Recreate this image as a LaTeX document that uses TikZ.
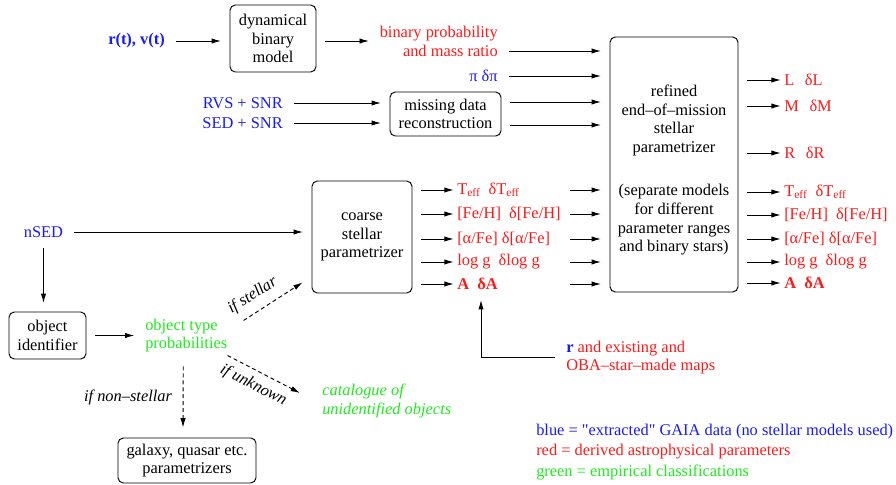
\documentclass[tikz,border=0pt]{standalone}
\usepackage{fontspec}
\setmainfont{LiberationSerif}[Extension=.ttf,UprightFont=*-Regular,BoldFont=*-Bold,ItalicFont=*-Italic,BoldItalicFont=*-BoldItalic]
\usetikzlibrary{calc,arrows.meta}

\definecolor{gaiablue}{RGB}{25,25,255}
\definecolor{gaiared}{RGB}{255,25,25}
\definecolor{gaiagreen}{RGB}{30,235,30}
\newcommand{\gaiafont}{\fontsize{12.3pt}{13.9pt}\selectfont}
\newcommand{\teff}{T\textsubscript{eff}}

\begin{document}
\begin{tikzpicture}[x=0.75pt,y=-0.75pt]

\tikzstyle{gaiatext} = [inner sep=1.5pt,font=\gaiafont,align=center,text=black]%
\tikzstyle{gaiabox} = [gaiatext,rectangle,draw=black,line width=0.7pt,rounded corners=4pt]%
\tikzstyle{gaiadata} = [gaiatext,text=gaiablue]%
\tikzstyle{gaiapar} = [gaiatext,text=gaiared]%
\tikzstyle{gaiaclass} = [gaiatext,text=gaiagreen]%
\tikzstyle{gaiaarc} = [->,>={Latex[length=7pt,width=4pt]},line width=0.7pt,shorten <=6.5pt,shorten >=6.5pt]%
\tikzstyle{gaiadash} = [gaiaarc,dash pattern=on 3pt off 2.2pt,shorten <=0pt,shorten >=0pt]%
\tikzstyle{cond} = [gaiatext,font=\gaiafont\itshape,inner sep=1pt]%

\useasboundingbox (0,0) rectangle (896,485);

\node[gaiadata,anchor=east,font=\gaiafont\bfseries] (rv) at (167,41) {r(t), v(t)};
\node[gaiabox,minimum width=64.5pt,minimum height=50.25pt] (dyn) at (273,38.5) {dynamical\\binary\\model};
\node[gaiapar,anchor=east,align=right] (binprob) at (500,41.5) {binary probability\\and mass ratio};
\node[gaiadata,anchor=east] (plx) at (500,76) {π δπ};

\node[gaiadata,anchor=east] (rvs) at (285,103) {RVS + SNR};
\node[gaiadata,anchor=east] (sed) at (285,123) {SED + SNR};
\node[gaiabox,minimum width=83.25pt,minimum height=33pt] (miss) at (445.5,114) {missing data\\reconstruction};

\node[gaiabox,minimum width=96pt,minimum height=191.25pt] (refined) at (674,164.5) {};
\node[gaiatext] (refinedtxt) at (674,170) {refined\\end--of--mission\\stellar\\parametrizer\\[19pt](separate models\\for different\\parameter ranges\\and binary stars)};

\node[gaiabox,minimum width=75pt,minimum height=84pt] (coarse) at (362,237) {coarse\\stellar\\parametrizer};
\node[gaiadata] (nsed) at (43.5,232) {nSED};

\node[gaiabox,minimum width=57.75pt,minimum height=35.25pt] (objid) at (47.5,335.5) {object\\identifier};
\node[gaiaclass,anchor=west,align=left] (objtype) at (143,335.5) {object type\\probabilities};
\node[gaiabox,minimum width=103.5pt,minimum height=33.75pt] (galaxy) at (187,460.5) {galaxy, quasar etc.\\parametrizers};
\node[gaiaclass,anchor=west,align=left,font=\gaiafont\itshape] (catalog) at (320,401) {catalogue of\\unidentified objects};

\node[gaiapar,anchor=west,align=left] (maps) at (564,357.5) {\textcolor{gaiablue}{\textbf{r}} and existing and\\OBA--star--made maps};
\coordinate (mapsin) at (481,300);

\node[gaiadata,anchor=west] (keyblue) at (534,432) {blue = \textquotedbl extracted\textquotedbl{} GAIA data (no stellar models used)};
\node[gaiapar,anchor=west] (keyred) at (534,452) {red = derived astrophysical parameters};
\node[gaiaclass,anchor=west] (keygreen) at (534,472) {green = empirical classifications};

% inputs
\draw[gaiaarc] (rv.east) -- (dyn.west |- rv);
\draw[gaiaarc] (dyn.east |- rv) -- (binprob.west |- rv);
\draw[gaiaarc] ($(binprob.east)+(0,9.5)$) -- ($(refined.west |- binprob.east)+(0,9.5)$);
\draw[gaiaarc] (plx.east) -- (refined.west |- plx);
\draw[gaiaarc] (rvs.east) -- (miss.west |- rvs);
\draw[gaiaarc] (sed.east) -- (miss.west |- sed);
\draw[gaiaarc] ($(miss.east |- rvs)+(0,-1)$) -- ($(refined.west |- rvs)+(0,-1)$);
\draw[gaiaarc] ($(miss.east |- sed)+(0,2)$) -- ($(refined.west |- sed)+(0,2)$);

% classification
\draw[gaiaarc] (nsed.east) -- (coarse.west |- nsed);
\draw[gaiaarc] (nsed.south) -- (nsed.south |- objid.north);
\draw[gaiaarc] (objid.east) -- (objtype.west);
\draw[gaiadash] ($(objtype.east)+(14,-15)$) --
    node[cond,pos=0.3,sloped,above=5pt] {if stellar}
    ($(coarse.south west)+(-9,-11)$);
\draw[gaiadash] ($(objtype.south east)+(-2,1)$) --
    node[cond,pos=0.45,sloped,below=4pt] {if unknown}
    ($(catalog.west)+(-20,-8)$);
\draw[gaiadash] ($(objtype.south)+(-3,12)$) --
    node[cond,midway,left=7pt] {if non--stellar}
    ($(galaxy.north)+(-4,-10)$);

% coarse parameters
\foreach \name/\y/\txt in {teff/190/{\teff\ \ δ\teff}, feh/214/{[Fe/H]\ \ δ[Fe/H]}, afe/239/{[α/Fe] δ[α/Fe]}, logg/262/{log g\ \ δlog g}, ext/284/{\textbf{A\ \ δA}}}
{
  \node[gaiapar,anchor=west] (c\name) at (455,\y) {\txt};
  \draw[gaiaarc,shorten >=1pt] (coarse.east |- c\name) -- (c\name.west);
  \draw[gaiaarc] ($(refined.west |- c\name)+(-48,0)$) -- (refined.west |- c\name);
}
\draw[gaiaarc,shorten >=0pt] (maps.west) -| (mapsin);

% refined parameters
\foreach \name/\y/\txt in {lum/80/{L\hspace{8pt}δL}, mass/106/{M\hspace{8pt}δM}, rad/153/{R\hspace{8pt}δR}, teff/192/{\teff\ \ δ\teff}, feh/215/{[Fe/H]\ \ δ[Fe/H]}, afe/239/{[α/Fe] δ[α/Fe]}, logg/262/{log g\ \ δlog g}, ext/283/{\textbf{A\ \ δA}}}
{
  \node[gaiapar,anchor=west] (r\name) at (782,\y) {\txt};
  \draw[gaiaarc,shorten >=1pt] (refined.east |- r\name) -- (r\name.west);
}

\end{tikzpicture}
\end{document}
